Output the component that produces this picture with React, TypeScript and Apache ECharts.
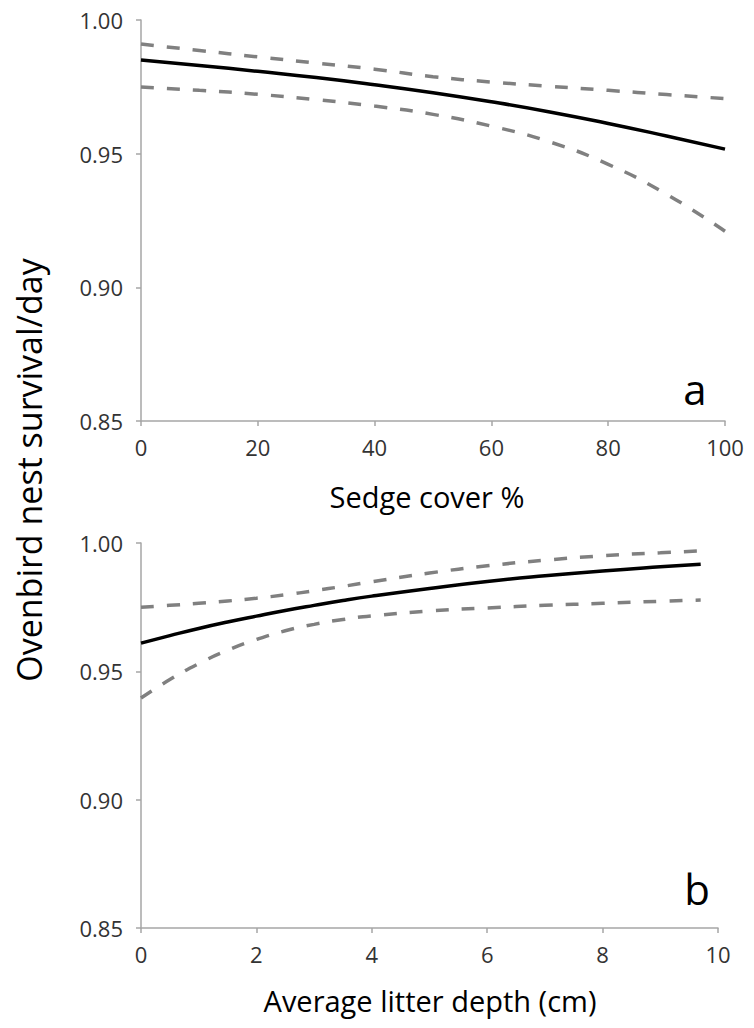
import React, { useEffect, useRef } from "react";
import * as echarts from "echarts";

// Panel a: sedge cover (%)
const sedgeX = [0, 10, 20, 30, 40, 50, 60, 70, 80, 90, 100];
const sedgeFit = [0.985, 0.983, 0.9808, 0.9785, 0.9758, 0.9728, 0.9694, 0.9656, 0.9613, 0.9566, 0.9517];
const sedgeUpper = [0.991, 0.9886, 0.9862, 0.9839, 0.9816, 0.9788, 0.9768, 0.9752, 0.9737, 0.9721, 0.9706];
const sedgeLower = [0.9749, 0.9737, 0.9722, 0.9702, 0.9678, 0.9647, 0.9603, 0.9544, 0.9460, 0.9348, 0.921];

// Panel b: average litter depth (cm)
const litterX = [0, 0.5, 1, 1.5, 2, 2.5, 3, 3.5, 4, 5, 6, 7, 8, 9, 9.7];
const litterFit = [0.961, 0.9639, 0.9667, 0.9692, 0.9715, 0.9737, 0.9757, 0.9776, 0.9793, 0.9823, 0.985, 0.9872, 0.9891, 0.9907, 0.9917];
const litterUpper = [0.975, 0.9757, 0.9765, 0.9774, 0.9785, 0.9798, 0.9814, 0.9831, 0.9849, 0.9883, 0.9911, 0.9933, 0.995, 0.9962, 0.9969];
const litterLower = [0.9396, 0.9468, 0.953, 0.9582, 0.9624, 0.9658, 0.9683, 0.9702, 0.9716, 0.9735, 0.9747, 0.9757, 0.9765, 0.9773, 0.9778];

const yMin = 0.85;
const yMax = 1.0;
const yStep = 0.05;

const FONT = "'Open Sans', sans-serif";
const AXIS_COLOR = "#a6a6a6";
const LABEL_COLOR = "#333333";

const pairs = (xs: number[], ys: number[]) => xs.map((x, i) => [x, ys[i]]);

export default function App() {
  const ref = useRef<HTMLDivElement>(null);

  useEffect(() => {
    if (!ref.current) return;
    const chart = echarts.init(ref.current, undefined, { renderer: "svg" });

    const axisCommon = {
      axisLine: { show: true, lineStyle: { color: AXIS_COLOR, width: 1.5 } },
      axisTick: { show: true, length: 5, inside: false, lineStyle: { color: AXIS_COLOR, width: 1.5 } },
      splitLine: { show: false },
    };

    const xAxisFor = (gridIndex: number, max: number, interval: number) => ({
      type: "value",
      gridIndex,
      min: 0,
      max,
      interval,
      ...axisCommon,
      axisLabel: { color: LABEL_COLOR, fontFamily: FONT, fontSize: 22, margin: 15 },
    });

    const yAxisFor = (gridIndex: number) => ({
      type: "value",
      gridIndex,
      min: yMin,
      max: yMax,
      interval: yStep,
      ...axisCommon,
      axisLabel: {
        color: LABEL_COLOR,
        fontFamily: FONT,
        fontSize: 22,
        margin: 18,
        formatter: (v: number) => v.toFixed(2),
      },
    });

    const line = (data: number[][], idx: number, dashed: boolean) => ({
      type: "line",
      xAxisIndex: idx,
      yAxisIndex: idx,
      data,
      smooth: true,
      showSymbol: false,
      symbol: "none",
      lineStyle: dashed
        ? { color: "#808080", width: 3.5, type: [13, 13] }
        : { color: "#000000", width: 3.5 },
      z: dashed ? 2 : 3,
    });

    chart.setOption({
      animation: false,
      backgroundColor: "#ffffff",
      grid: [
        { left: 141, right: 29, top: 20, height: 401, containLabel: false },
        { left: 141, right: 36, top: 543, height: 385, containLabel: false },
      ],
      xAxis: [xAxisFor(0, 100, 20), xAxisFor(1, 10, 2)],
      yAxis: [yAxisFor(0), yAxisFor(1)],
      series: [
        line(pairs(sedgeX, sedgeUpper), 0, true),
        line(pairs(sedgeX, sedgeLower), 0, true),
        line(pairs(sedgeX, sedgeFit), 0, false),
        line(pairs(litterX, litterUpper), 1, true),
        line(pairs(litterX, litterLower), 1, true),
        line(pairs(litterX, litterFit), 1, false),
      ],
      graphic: [
        {
          type: "text",
          x: 29,
          y: 470,
          rotation: Math.PI / 2,
          style: {
            text: "Ovenbird nest survival/day",
            fontFamily: FONT,
            fontSize: 34,
            fill: "#000",
            align: "center",
            verticalAlign: "middle",
          },
        },
        {
          type: "text",
          x: 427,
          y: 496,
          style: {
            text: "Sedge cover %",
            fontFamily: FONT,
            fontSize: 29,
            fill: "#000",
            align: "center",
            verticalAlign: "middle",
          },
        },
        {
          type: "text",
          x: 430,
          y: 1000,
          style: {
            text: "Average litter depth (cm)",
            fontFamily: FONT,
            fontSize: 29,
            fill: "#000",
            align: "center",
            verticalAlign: "middle",
          },
        },
        {
          type: "text",
          x: 695,
          y: 388,
          style: {
            text: "a",
            fontFamily: FONT,
            fontSize: 42,
            fill: "#000",
            align: "center",
            verticalAlign: "middle",
          },
        },
        {
          type: "text",
          x: 697,
          y: 888,
          style: {
            text: "b",
            fontFamily: FONT,
            fontSize: 42,
            fill: "#000",
            align: "center",
            verticalAlign: "middle",
          },
        },
      ],
    });

    return () => chart.dispose();
  }, []);

  return (
    <div
      ref={ref}
      style={{ position: "absolute", left: 0, top: 0, width: 754, height: 1028, background: "#fff" }}
    />
  );
}
